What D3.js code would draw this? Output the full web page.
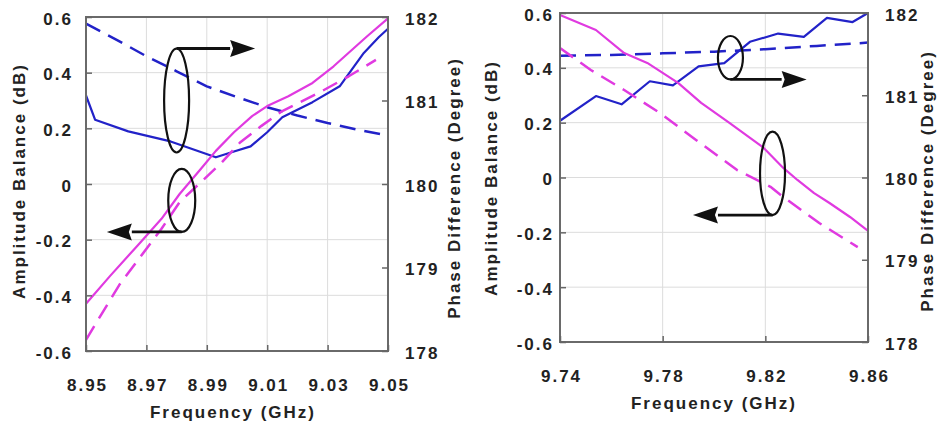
<!DOCTYPE html>
<html>
<head>
<meta charset="utf-8">
<script src="https://cdn.jsdelivr.net/npm/d3@7/dist/d3.min.js"></script>
<style>
    body { margin: 0; background: #fff; }
    svg text {
        font-family: "Liberation Sans", Arial, sans-serif;
        font-weight: bold;
        font-size: 17px;
        letter-spacing: 2px;
        fill: #222;
    }
</style>
</head>
<body>
<svg id="chart" width="943" height="427"></svg>
<script>
// shared axis ticks
var ampTicks = [-0.6, -0.4, -0.2, 0, 0.2, 0.4, 0.6];
var phaseTicks = [178, 179, 180, 181, 182];

// lower band, 8.95 - 9.05 GHz
var freqTicksLo = [8.95, 8.97, 8.99, 9.01, 9.03, 9.05];
var ampSolidFreqLo = [8.950, 8.958, 8.968, 8.975, 8.981, 8.988, 8.993, 8.999, 9.005, 9.010, 9.017, 9.025, 9.032, 9.043, 9.050];
var ampSolidLo = [-0.43, -0.33, -0.21, -0.125, -0.036, 0.054, 0.119, 0.186, 0.244, 0.28, 0.315, 0.363, 0.423, 0.53, 0.595];
var ampDashFreqLo = [8.950, 8.955, 8.961, 8.968, 8.975, 8.981, 8.988, 8.995, 9.001, 9.008, 9.015, 9.028, 9.037, 9.046];
var ampDashLo = [-0.56, -0.47, -0.363, -0.262, -0.161, -0.065, 0.006, 0.078, 0.149, 0.208, 0.262, 0.333, 0.387, 0.446];
var phaseSolidFreqLo = [8.950, 8.953, 8.964, 8.978, 8.993, 8.999, 9.0045, 9.010, 9.015, 9.025, 9.034, 9.042, 9.047, 9.050];
var phaseSolidLo = [181.06, 180.77, 180.63, 180.51, 180.32, 180.39, 180.45, 180.62, 180.80, 180.98, 181.17, 181.57, 181.76, 181.86];
var phaseDashFreqLo = [8.95, 8.96, 8.97, 8.98, 8.99, 9.00, 9.01, 9.02, 9.03, 9.04, 9.05];
var phaseDashLo = [181.92, 181.73, 181.53, 181.35, 181.17, 181.04, 180.92, 180.82, 180.73, 180.65, 180.58];

// upper band, 9.74 - 9.86 GHz
var freqTicksHi = [9.74, 9.78, 9.82, 9.86];
var ampSolidFreqHi = [9.740, 9.754, 9.765, 9.774, 9.786, 9.795, 9.806, 9.819, 9.827, 9.8325, 9.839, 9.845, 9.853, 9.860];
var ampSolidHi = [0.593, 0.538, 0.454, 0.418, 0.345, 0.272, 0.199, 0.111, 0.035, -0.009, -0.057, -0.093, -0.144, -0.195];
var ampDashFreqHi = [9.740, 9.752, 9.765, 9.779, 9.793, 9.809, 9.822, 9.827, 9.841, 9.856];
var ampDashHi = [0.472, 0.392, 0.319, 0.235, 0.137, 0.027, -0.034, -0.071, -0.166, -0.254];
var phaseSolidFreqHi = [9.740, 9.754, 9.764, 9.775, 9.784, 9.794, 9.804, 9.814, 9.825, 9.835, 9.844, 9.854, 9.860];
var phaseSolidHi = [180.69, 180.99, 180.89, 181.17, 181.12, 181.35, 181.39, 181.65, 181.75, 181.71, 181.94, 181.89, 182.0];
var phaseDashFreqHi = [9.74, 9.76, 9.78, 9.80, 9.82, 9.84, 9.86];
var phaseDashHi = [181.48, 181.49, 181.51, 181.53, 181.56, 181.60, 181.64];

var BLUE = '#2222c8';
var MAGENTA = '#e03ae0';

class BalancePanel {
    constructor(svg, box, freqTicks) {
        this.svg = svg;
        this.box = box;
        this.freqTicks = freqTicks;
        this.g = svg.append('g');

        this.x = d3.scaleLinear()
            .domain([freqTicks[0], freqTicks[freqTicks.length - 1]])
            .range([box.left, box.right]);
        this.yAmp = d3.scaleLinear()
            .domain([ampTicks[0], ampTicks[ampTicks.length - 1]])
            .range([box.bottom, box.top]);
        this.yPhase = d3.scaleLinear()
            .domain([phaseTicks[0], phaseTicks[phaseTicks.length - 1]])
            .range([box.bottom, box.top]);
    }

    grid() {
        var b = this.box;
        this.g.selectAll('line.vgrid')
            .data(this.freqTicks.slice(1, -1))
            .enter()
            .append('line')
            .attr('class', 'vgrid')
            .attr('x1', function (d) { return this.x(d); }.bind(this))
            .attr('x2', function (d) { return this.x(d); }.bind(this))
            .attr('y1', b.top)
            .attr('y2', b.bottom)
            .attr('stroke', '#dcdcdc')
            .attr('stroke-width', 1);

        this.g.selectAll('line.hgrid')
            .data(ampTicks.slice(1, -1))
            .enter()
            .append('line')
            .attr('class', 'hgrid')
            .attr('x1', b.left)
            .attr('x2', b.right)
            .attr('y1', function (d) { return this.yAmp(d); }.bind(this))
            .attr('y2', function (d) { return this.yAmp(d); }.bind(this))
            .attr('stroke', '#dcdcdc')
            .attr('stroke-width', 1);
    }

    axes(pad) {
        var b = this.box;
        var ampFormat = function (d) { return d === 0 ? '0' : d.toFixed(1); };

        var bottom = this.g.append('g')
            .attr('transform', 'translate(0,' + b.bottom + ')')
            .call(d3.axisBottom(this.x)
                .tickValues(this.freqTicks)
                .tickFormat(d3.format('.2f'))
                .tickSizeInner(-6)
                .tickSizeOuter(0)
                .tickPadding(28));
        bottom.selectAll('text').attr('dx', '1');

        var left = this.g.append('g')
            .attr('transform', 'translate(' + b.left + ',0)')
            .call(d3.axisLeft(this.yAmp)
                .tickValues(ampTicks)
                .tickFormat(ampFormat)
                .tickSizeInner(-6)
                .tickSizeOuter(0)
                .tickPadding(pad.left));
        left.selectAll('text').attr('dy', '0.42em');

        var right = this.g.append('g')
            .attr('transform', 'translate(' + b.right + ',0)')
            .call(d3.axisRight(this.yPhase)
                .tickValues(phaseTicks)
                .tickFormat(d3.format('d'))
                .tickSizeInner(-6)
                .tickSizeOuter(0)
                .tickPadding(pad.right));
        right.selectAll('text').attr('dy', '0.42em');

        [bottom, left, right].forEach(function (a) {
            a.select('.domain').remove();
            a.selectAll('line').attr('stroke', '#666').attr('stroke-width', 1.5);
        });
    }

    titles(t) {
        this.g.append('text')
            .attr('x', t.freqX)
            .attr('y', t.freqY)
            .attr('text-anchor', 'middle')
            .text('Frequency (GHz)');

        this.g.append('text')
            .attr('transform', 'translate(' + t.ampX + ',' + t.ampY + ') rotate(-90)')
            .attr('text-anchor', 'middle')
            .text('Amplitude Balance (dB)');

        this.g.append('text')
            .attr('transform', 'translate(' + t.phaseX + ',' + t.phaseY + ') rotate(-90)')
            .attr('text-anchor', 'middle')
            .text('Phase Difference (Degree)');
    }

    series(freq, values, axis, color, dashed) {
        var y = axis === 'amp' ? this.yAmp : this.yPhase;
        var line = d3.line()
            .x(function (d) { return this.x(d[0]); }.bind(this))
            .y(function (d) { return y(d[1]); });

        this.g.append('path')
            .datum(d3.zip(freq, values))
            .attr('d', line)
            .attr('fill', 'none')
            .attr('stroke', color)
            .attr('stroke-width', dashed ? 2.5 : 2.2)
            .attr('stroke-linejoin', 'round')
            .attr('stroke-dasharray', dashed ? '16,9' : null);
    }

    frame() {
        var b = this.box;
        this.g.append('rect')
            .attr('x', b.left)
            .attr('y', b.top)
            .attr('width', b.right - b.left)
            .attr('height', b.bottom - b.top)
            .attr('fill', 'none')
            .attr('stroke', '#6a6a6a')
            .attr('stroke-width', 2);
    }

    // ellipse around a pair of curves, with an arrow pointing at the axis they belong to
    note(n) {
        var cx = this.x(n.freq);
        var cy = this.yAmp(n.amp);
        var y0 = n.from === 'top' ? cy - n.ry : cy + n.ry;
        var tip = this.x(n.toFreq);
        var dir = tip > cx ? 1 : -1;
        var base = tip - dir * 25;

        this.g.append('ellipse')
            .attr('cx', cx)
            .attr('cy', cy)
            .attr('rx', n.rx)
            .attr('ry', n.ry)
            .attr('fill', 'none')
            .attr('stroke', '#111')
            .attr('stroke-width', 2.2);

        this.g.append('line')
            .attr('x1', cx)
            .attr('x2', base)
            .attr('y1', y0)
            .attr('y2', y0)
            .attr('stroke', '#111')
            .attr('stroke-width', 2.8);

        this.g.append('path')
            .attr('d', 'M' + tip + ',' + y0 + 'L' + base + ',' + (y0 - 8.5) + 'L' + (base + dir * 3) + ',' + y0 + 'L' + base + ',' + (y0 + 8.5) + 'Z')
            .attr('fill', '#111');
    }
}

var svg = d3.select('#chart');
svg.append('rect').attr('width', 943).attr('height', 427).attr('fill', '#fff');

var lo = new BalancePanel(svg, { left: 86, right: 388, top: 17, bottom: 351 }, freqTicksLo);
lo.grid();
lo.series(phaseDashFreqLo, phaseDashLo, 'phase', BLUE, true);
lo.series(phaseSolidFreqLo, phaseSolidLo, 'phase', BLUE, false);
lo.series(ampDashFreqLo, ampDashLo, 'amp', MAGENTA, true);
lo.series(ampSolidFreqLo, ampSolidLo, 'amp', MAGENTA, false);
lo.frame();
lo.axes({ left: 13, right: 17 });
lo.titles({ freqX: 233, freqY: 418, ampX: 25, ampY: 181, phaseX: 460, phaseY: 188 });
lo.note({ freq: 8.980, amp: 0.30, rx: 12.5, ry: 52, from: 'top', toFreq: 9.006 });
lo.note({ freq: 8.9817, amp: -0.059, rx: 13.5, ry: 31.5, from: 'bottom', toFreq: 8.9569 });

var hi = new BalancePanel(svg, { left: 560, right: 868, top: 13, bottom: 342 }, freqTicksHi);
hi.grid();
hi.series(phaseDashFreqHi, phaseDashHi, 'phase', BLUE, true);
hi.series(phaseSolidFreqHi, phaseSolidHi, 'phase', BLUE, false);
hi.series(ampDashFreqHi, ampDashHi, 'amp', MAGENTA, true);
hi.series(ampSolidFreqHi, ampSolidHi, 'amp', MAGENTA, false);
hi.frame();
hi.axes({ left: 6, right: 17 });
hi.titles({ freqX: 714, freqY: 409, ampX: 497, ampY: 178, phaseX: 933, phaseY: 181 });
hi.note({ freq: 9.8064, amp: 0.437, rx: 12.5, ry: 21.7, from: 'bottom', toFreq: 9.8361 });
hi.note({ freq: 9.8228, amp: 0.015, rx: 12.5, ry: 41.7, from: 'bottom', toFreq: 9.7918 });
</script>
</body>
</html>
